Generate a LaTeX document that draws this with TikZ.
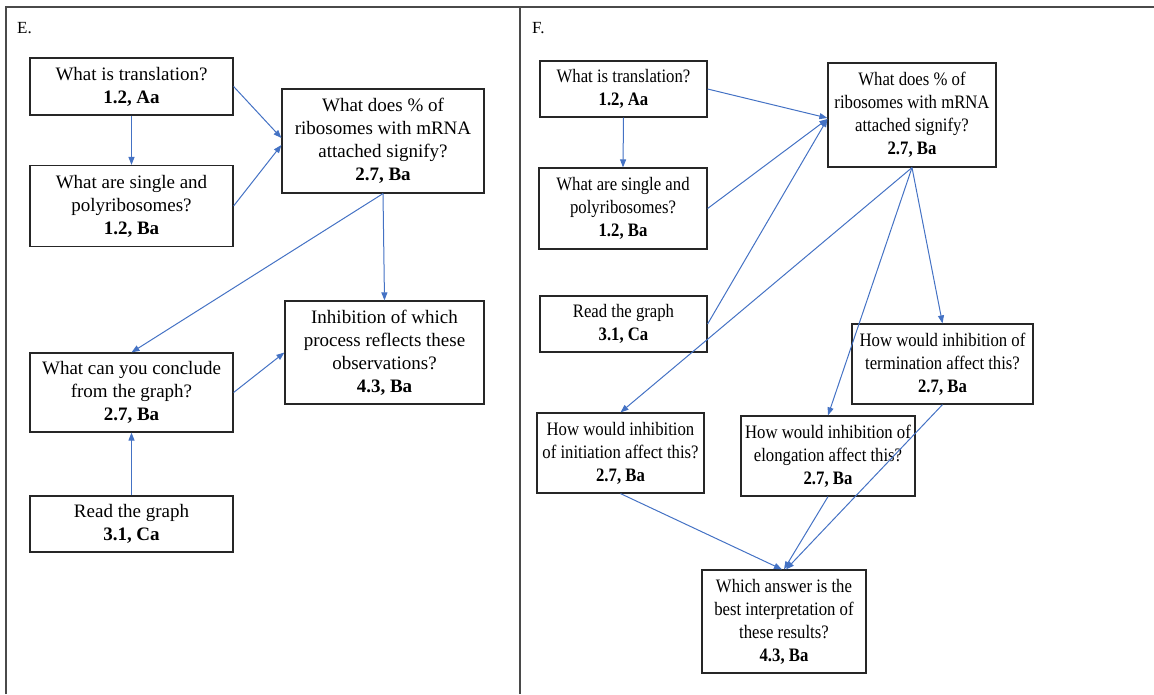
\documentclass[tikz,border=0pt]{standalone}
\usepackage{fontspec}
\setmainfont{Liberation Serif}
\newfontfamily\narrowserif[FakeStretch=0.88]{Liberation Serif}
\usetikzlibrary{arrows.meta}
\definecolor{linkblue}{HTML}{4472C4}
\definecolor{framegray}{HTML}{4A4A4A}

\tikzset{
  qbox/.style={draw=black!85, line width=1.2pt, align=center, inner sep=0pt,
    font=\fontsize{19}{23}\selectfont},
  fqbox/.style={qbox, font=\fontsize{19}{23}\narrowserif},
  link/.style={draw=linkblue, line width=1pt,
    -{Triangle[length=8pt,width=6pt]}},
  panel/.style={framegray, line width=1.5pt},
  tag/.style={anchor=base west, inner sep=0pt, font=\fontsize{17}{20}\selectfont}
}

\begin{document}
\begin{tikzpicture}[x=1pt, y=-1pt]
  \useasboundingbox (0,0) rectangle (1154,694);
  % panels
  \draw[panel] (6,694) -- (6,7) -- (1154,7);
  \draw[panel] (520,7) -- (520,694);
  \draw (17,33) node[tag] (etag) {E.};
  \draw (532,33) node[tag] (ftag) {F.};

  % panel E
  \draw (131.5,86.5) node[qbox, minimum width=203pt, minimum height=57pt] (etrans)
    {What is translation?\\\textbf{1.2, Aa}};
  \draw (131.5,206) node[qbox, minimum width=203pt, minimum height=81pt] (esingle)
    {What are single and\\polyribosomes?\\\textbf{1.2, Ba}};
  \draw (383,141) node[qbox, minimum width=202pt, minimum height=104pt] (epct)
    {What does \% of\\ribosomes with mRNA\\attached signify?\\\textbf{2.7, Ba}};
  \draw (384.5,352.5) node[qbox, minimum width=199pt, minimum height=103pt] (einhib)
    {Inhibition of which\\process reflects these\\observations?\\\textbf{4.3, Ba}};
  \draw (131.5,392.5) node[qbox, minimum width=203pt, minimum height=79pt] (econc)
    {What can you conclude\\from the graph?\\\textbf{2.7, Ba}};
  \draw (131.5,524) node[qbox, minimum width=203pt, minimum height=56pt] (eread)
    {Read the graph\\\textbf{3.1, Ca}};

  \draw[link] (etrans.east) -- ([yshift=3pt]epct.west);
  \draw[link] (etrans.south) -- (esingle.north);
  \draw[link] (esingle.east) -- ([yshift=-4pt]epct.west);
  \draw[link] (epct.south) -- (econc.north);
  \draw[link] (epct.south) -- (einhib.north);
  \draw[link] (econc.east) -- (einhib.west);
  \draw[link] (eread.north) -- (econc.south);

  % panel F
  \draw (623.5,89) node[fqbox, minimum width=167pt, minimum height=56pt] (ftrans)
    {What is translation?\\\textbf{1.2, Aa}};
  \draw (623,208.5) node[fqbox, minimum width=168pt, minimum height=81pt] (fsingle)
    {What are single and\\polyribosomes?\\\textbf{1.2, Ba}};
  \draw (912,115) node[fqbox, minimum width=168pt, minimum height=104pt] (fpct)
    {What does \% of\\ribosomes with mRNA\\attached signify?\\\textbf{2.7, Ba}};
  \draw (623.5,324) node[fqbox, minimum width=167pt, minimum height=56pt] (fread)
    {Read the graph\\\textbf{3.1, Ca}};
  \draw (942.5,364) node[fqbox, minimum width=181pt, minimum height=80pt] (fterm)
    {How would inhibition of\\termination affect this?\\\textbf{2.7, Ba}};
  \draw (620.5,453) node[fqbox, minimum width=167pt, minimum height=80pt] (finit)
    {How would inhibition\\of initiation affect this?\\\textbf{2.7, Ba}};
  \draw (828,456) node[fqbox, minimum width=174pt, minimum height=80pt] (felong)
    {How would inhibition of\\elongation affect this?\\\textbf{2.7, Ba}};
  \draw (784,621.5) node[fqbox, minimum width=164pt, minimum height=103pt] (fbest)
    {Which answer is the\\best interpretation of\\these results?\\\textbf{4.3, Ba}};

  \draw[link] (ftrans.east) -- ([yshift=-3pt]fpct.west);
  \draw[link] (ftrans.south) -- (fsingle.north);
  \draw[link] (fsingle.east) -- ([yshift=-4pt]fpct.west);
  \draw[link] (fread.east) -- ([yshift=-4pt]fpct.west);
  \draw[link] (fpct.south) -- (finit.north);
  \draw[link] (fpct.south) -- (felong.north);
  \draw[link] (fpct.south) -- (fterm.north);
  \draw[link] (finit.south) -- ([xshift=-2pt]fbest.north);
  \draw[link] (felong.south) -- (fbest.north);
  \draw[link] (fterm.south) -- ([xshift=2pt]fbest.north);
\end{tikzpicture}
\end{document}
